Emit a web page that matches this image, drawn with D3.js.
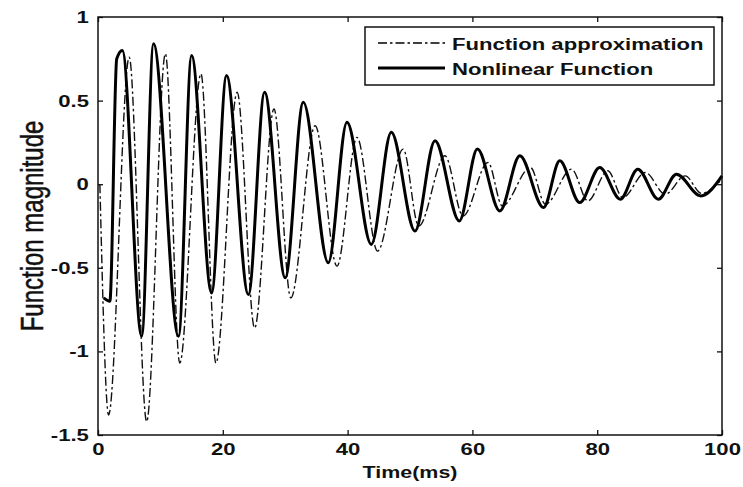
<!DOCTYPE html>
<html>
<head>
<meta charset="utf-8">
<script src="https://cdn.jsdelivr.net/npm/d3@7"></script>
<style>
  html, body { margin: 0; padding: 0; background: #fff; }
  svg { display: block; font-family: "Liberation Sans", Arial, Helvetica, sans-serif; }
</style>
</head>
<body>
<svg id="chart" width="743" height="487"></svg>
<script>
// Damped response: turning points of each trace (time in ms, magnitude)
const nonlinearTime = [0.9, 1.9, 3.0, 3.9, 7.0, 8.9, 12.9, 15.0, 18.2, 20.6, 24.1, 26.7, 30.0, 32.9, 36.9,
  39.9, 43.8, 47.0, 50.8, 54.0, 57.9, 60.8, 64.4, 67.6, 71.4, 74.0, 77.2, 80.4, 83.7, 86.5, 89.8, 92.7, 96.6, 100];
const nonlinearValue = [-0.68, -0.70, 0.75, 0.80, -0.91, 0.84, -0.91, 0.77, -0.65, 0.65, -0.66, 0.55, -0.56, 0.49, -0.47,
  0.37, -0.36, 0.31, -0.28, 0.26, -0.22, 0.21, -0.16, 0.17, -0.14, 0.14, -0.11, 0.10, -0.09, 0.09, -0.09, 0.06, -0.07, 0.05];

const approxTime = [0.3, 1.7, 5.0, 7.8, 10.8, 13.1, 16.5, 18.9, 22.3, 25.1, 28.2, 30.9, 34.8, 38.3, 41.5,
  44.8, 48.9, 51.4, 55.6, 58.5, 62.5, 64.8, 69.3, 71.7, 75.9, 78.5, 81.7, 84.1, 87.7, 90.9, 94.1, 96.7, 100];
const approxValue = [0.0, -1.38, 0.76, -1.42, 0.78, -1.07, 0.66, -1.07, 0.55, -0.86, 0.45, -0.68, 0.35, -0.49, 0.28,
  -0.40, 0.21, -0.25, 0.17, -0.19, 0.13, -0.13, 0.10, -0.12, 0.09, -0.10, 0.08, -0.08, 0.07, -0.06, 0.05, -0.055, 0.03];

const xTicks = [0, 20, 40, 60, 80, 100];
const yTicks = [1, 0.5, 0, -0.5, -1, -1.5];
const yTickLabels = ["1", "0.5", "0", "-0.5", "-1", "-1.5"];
const legendLabels = ["Function approximation", "Nonlinear Function"];

const svg = d3.select("#chart");
const plotLeft = 98, plotRight = 722, plotTop = 17, plotBottom = 435;
const stretch = 1.3; // wide glyphs

const x = d3.scaleLinear().domain([0, 100]).range([plotLeft, plotRight]);
const y = d3.scaleLinear().domain([-1.5, 1]).range([plotBottom, plotTop]);

const toPoints = (ts, vs) => ts.map((t, i) => [t, vs[i]]);
const line = d3.line().x(d => x(d[0])).y(d => y(d[1])).curve(d3.curveMonotoneX);

// curves
svg.append("path")
  .attr("d", line(toPoints(approxTime, approxValue)))
  .attr("fill", "none").attr("stroke", "#111").attr("stroke-width", 1.4)
  .attr("stroke-dasharray", "9,3,2.5,3");

svg.append("path")
  .attr("d", line(toPoints(nonlinearTime, nonlinearValue)))
  .attr("fill", "none").attr("stroke", "#000").attr("stroke-width", 3)
  .attr("stroke-linejoin", "round");

// axes with inward ticks on all four sides
const styleAxis = g => {
  g.select(".domain").remove();
  g.selectAll(".tick line").attr("stroke", "#111").attr("stroke-width", 1.3);
};
const styleLabels = g => g.selectAll(".tick text")
  .attr("transform", `scale(${stretch},1)`)
  .attr("font-size", 17).attr("font-weight", "bold").attr("fill", "#111")
  .attr("font-family", "'Liberation Sans', Arial, sans-serif");

svg.append("g").attr("transform", `translate(0,${plotBottom})`)
  .call(d3.axisBottom(x).tickValues(xTicks).tickSize(-5).tickPadding(8).tickFormat(d3.format("d")))
  .call(styleAxis).call(styleLabels);

svg.append("g").attr("transform", `translate(0,${plotTop})`)
  .call(d3.axisTop(x).tickValues(xTicks).tickSize(-5).tickFormat(""))
  .call(styleAxis);

svg.append("g").attr("transform", `translate(${plotLeft},0)`)
  .call(d3.axisLeft(y).tickValues(yTicks).tickSize(-5).tickPadding(7)
    .tickFormat((d, i) => yTickLabels[i]))
  .call(styleAxis).call(styleLabels);

svg.append("g").attr("transform", `translate(${plotRight},0)`)
  .call(d3.axisRight(y).tickValues(yTicks).tickSize(-5).tickFormat(""))
  .call(styleAxis);

// frame
svg.append("rect")
  .attr("x", plotLeft).attr("y", plotTop)
  .attr("width", plotRight - plotLeft).attr("height", plotBottom - plotTop)
  .attr("fill", "none").attr("stroke", "#111").attr("stroke-width", 1.5);

// axis titles
svg.append("text")
  .attr("transform", `translate(${(plotLeft + plotRight) / 2},478) scale(${stretch},1)`)
  .attr("text-anchor", "middle").attr("font-size", 16.5).attr("font-weight", "bold").attr("fill", "#111")
  .text("Time(ms)");

svg.append("text")
  .attr("transform", `translate(43,${(plotTop + plotBottom) / 2}) scale(${stretch},1) rotate(-90)`)
  .attr("text-anchor", "middle").attr("font-size", 24).attr("fill", "#111")
  .attr("stroke", "#111").attr("stroke-width", 0.4)
  .text("Function magnitude");

// legend
const lg = svg.append("g");
lg.append("rect").attr("x", 365).attr("y", 27).attr("width", 349).attr("height", 58)
  .attr("fill", "#fff").attr("stroke", "#111").attr("stroke-width", 1.5);
const rows = [
  { yLine: 43, yText: 50, width: 1.4, dash: "9,3,2.5,3" },
  { yLine: 68, yText: 75, width: 3, dash: null }
];
rows.forEach((r, i) => {
  lg.append("line").attr("x1", 378).attr("x2", 445).attr("y1", r.yLine).attr("y2", r.yLine)
    .attr("stroke", "#000").attr("stroke-width", r.width).attr("stroke-dasharray", r.dash);
  lg.append("text")
    .attr("transform", `translate(452,${r.yText}) scale(${stretch},1)`)
    .attr("font-size", 17).attr("font-weight", "bold").attr("fill", "#111")
    .text(legendLabels[i]);
});
</script>
</body>
</html>
